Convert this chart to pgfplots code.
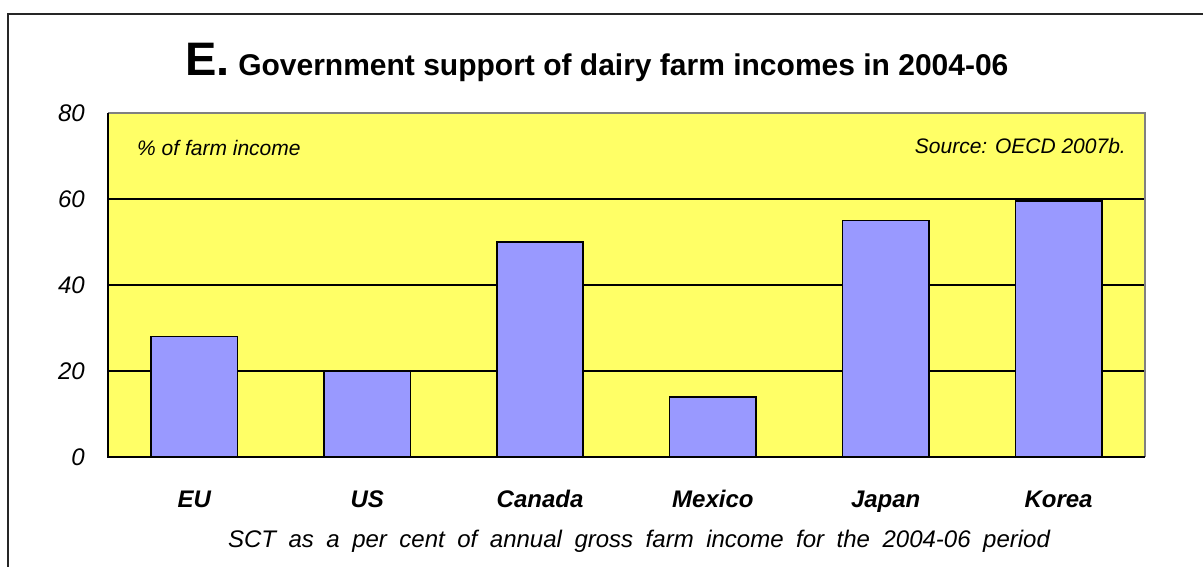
\documentclass[border=0pt]{standalone}
\usepackage{pgfplots}
\pgfplotsset{compat=1.18}
\usepackage{fontspec}
\setmainfont{Liberation Sans}
\definecolor{bgyellow}{HTML}{FFFF66}
\definecolor{barblue}{HTML}{9999FF}
\begin{document}
\begin{tikzpicture}
\useasboundingbox (0,0) rectangle (1203pt,566pt);
\draw[line width=2pt, black!85] (8pt,-5pt) -- (8pt,552pt) -- (1210pt,552pt);
\node[anchor=base] at (597pt,490pt) {\fontsize{47}{50}\selectfont\bfseries E.\fontsize{30}{34}\selectfont\ Government support of dairy farm incomes in 2004-06};
\begin{axis}[
  at={(108pt,109pt)}, anchor=south west,
  width=1037pt, height=344pt, scale only axis,
  xmin=-0.5, xmax=5.5, ymin=0, ymax=80,
  ytick={0,20,40,60,80},
  xtick={0,1,2,3,4,5},
  xticklabels={EU,US,Canada,Mexico,Japan,Korea},
  major tick length=0pt,
  axis line style={draw=none},
  axis background/.style={fill=bgyellow},
  ymajorgrids, major grid style={black, line width=1.2pt},
  /pgf/number format/assume math mode=true,
  yticklabel style={font=\fontsize{24}{28}\selectfont\itshape, anchor=east, inner sep=0pt, xshift=-23pt},
  xticklabel style={font=\fontsize{24}{28}\selectfont\bfseries\itshape, anchor=base, inner sep=0pt, yshift=-50pt},
  ybar, bar width=0.5,
  clip=false,
]
\addplot[fill=barblue, draw=black, line width=1.6pt] coordinates {(0,28) (1,20) (2,50) (3,14) (4,55) (5,59.5)};
\draw[line width=1.5pt, black!50] (rel axis cs:0,1) -- (rel axis cs:1,1) -- (rel axis cs:1,0);
\draw[line width=1.5pt, black] (rel axis cs:0,1) -- (rel axis cs:0,0) -- (rel axis cs:1,0);
\end{axis}
\node[anchor=base west, inner sep=0pt, font=\fontsize{21}{24}\selectfont\itshape] at (137pt,410pt) {\% of farm income};
\node[anchor=base east, inner sep=0pt, font=\fontsize{21}{24}\selectfont\itshape] at (1126pt,412pt) {Source: OECD 2007b.};
\node[anchor=base, inner sep=0pt, font=\fontsize{24}{28}\selectfont\itshape] at (639pt,19pt) {\makebox[822pt][s]{SCT as a per cent of annual gross farm income for the 2004-06 period}};
\end{tikzpicture}
\end{document}
